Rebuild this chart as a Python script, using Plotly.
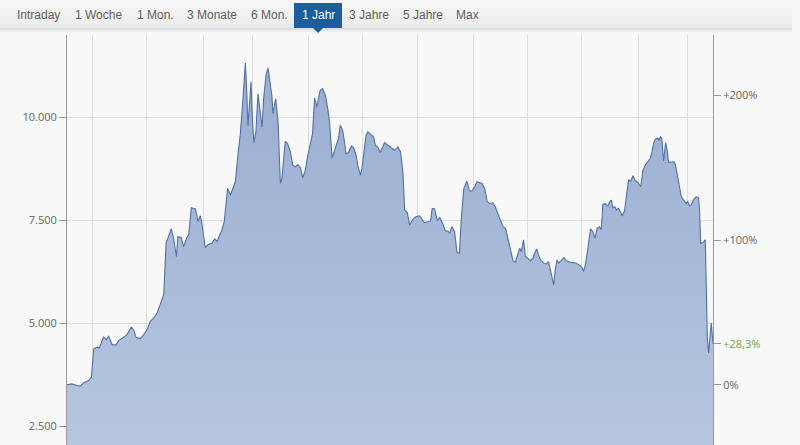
import plotly.graph_objects as go

# ---------------- data ----------------
days = [0, 1.9, 3.9, 5.2, 6.5, 8.4, 9.5, 10.4, 11.7, 12.6, 14.2, 15.2, 16.2, 17.5, 19.0, 20.1, 22.0, 23.3, 25.0, 25.9,
        26.8, 28.5, 29.8, 31.1, 32.4, 33.7, 35.0, 36.3, 37.6, 38.5, 39.5, 40.5, 41.4, 42.5, 43.1, 44.4, 45.3, 46.6, 47.3, 48.3,
        49.9, 50.9, 51.8, 52.4, 53.7, 55.0, 56.3, 57.4, 58.3, 59.2, 60.2, 61.1, 61.9, 62.4, 63.5, 64.4, 65.4, 66.4, 67.3, 68.2,
        69.3, 69.9, 70.3, 70.8, 71.5, 72.1, 72.6, 73.4, 74.2, 74.9, 75.8, 76.4, 77.3, 78.1, 79.0, 79.6, 80.0, 80.5, 81.1, 82.0,
        82.9, 83.5, 84.2, 84.8, 85.7, 86.8, 87.7, 88.7, 89.7, 90.7, 91.6, 92.6, 93.6, 94.5, 95.4, 96.2, 97.1, 97.8, 98.4, 99.3,
        100.4, 101.3, 102.0, 103.0, 104.0, 104.9, 105.5, 106.2, 107.1, 107.9, 108.4, 109.4, 110.5, 111.4, 112.3, 113.1, 114.0, 114.6, 115.3, 116.2,
        116.9, 118.2, 119.1, 119.8, 120.7, 121.7, 122.6, 123.4, 124.3, 125.2, 126.0, 127.3, 128.6, 129.6, 130.5, 131.2, 132.2, 133.1, 134.4, 135.7,
        137.0, 137.6, 138.9, 140.2, 141.3, 141.9, 142.8, 143.9, 144.8, 146.1, 147.0, 148.0, 148.7, 149.6, 150.6, 151.5, 152.5, 153.2, 154.2, 155.4,
        156.4, 157.3, 158.4, 159.3, 160.3, 161.3, 162.3, 163.3, 164.2, 165.5, 166.4, 167.4, 168.5, 169.4, 170.4, 171.3, 172.4, 173.3, 174.2, 175.2,
        175.9, 176.5, 177.4, 178.1, 178.8, 180.1, 181.0, 181.7, 182.5, 183.2, 184.0, 185.3, 186.2, 187.1, 188.2, 189.1, 189.8, 190.4, 191.0, 192.0,
        193.1, 194.0, 195.3, 196.6, 197.9, 199.2, 200.1, 200.7, 201.4, 202.4, 203.4, 204.3, 205.2, 206.0, 206.9, 207.6, 208.2, 209.1, 210.2, 210.8,
        211.5, 212.1, 212.8, 213.5, 214.3, 215.0, 215.7, 216.6, 217.3, 218.2, 219.0, 219.9, 220.8, 221.8, 222.9, 223.8, 224.7, 225.7, 226.6, 227.3,
        227.9, 228.6, 229.6, 230.0, 230.6, 231.1, 231.8, 232.6, 233.2, 233.7, 234.8, 235.8, 236.3, 237.1, 238.0, 238.7, 239.3, 240.0, 240.6, 241.2,
        241.9, 242.5, 243.5, 244.5, 245.4, 245.8, 246.2, 247.1, 248.0, 248.4, 248.8, 249.3, 250.0, 250.3, 251.0]

prices = [3510, 3530, 3490, 3475, 3555, 3610, 3695, 4385, 4420, 4400, 4670, 4605, 4685, 4485, 4470, 4580, 4660, 4725, 4905, 4845,
          4660, 4630, 4725, 4845, 5050, 5130, 5250, 5450, 5695, 6945, 7105, 7290, 7065, 6620, 7105, 7080, 6860, 7080, 7145, 7805,
          7775, 7470, 7610, 7425, 6840, 6920, 6945, 7050, 6985, 7105, 7265, 7465, 8030, 8275, 8115, 8275, 8435, 9080, 9565, 10290,
          11320, 10530, 9805, 10210, 10855, 9885, 9385, 9645, 10570, 10210, 9765, 10450, 11015, 11195, 10855, 10530, 10090, 10290, 10450, 9885,
          8395, 8515, 9000, 9420, 9365, 9160, 8840, 8800, 8855, 8775, 8530, 8720, 9080, 9365, 9605, 10470, 10250, 10490, 10655, 10695,
          10530, 10210, 9885, 9015, 9200, 9320, 9485, 9805, 9685, 9365, 9120, 9145, 9305, 9260, 9080, 8800, 8595, 8760, 9160, 9565,
          9645, 9580, 9525, 9320, 9280, 9145, 9260, 9385, 9340, 9305, 9260, 9200, 9280, 9160, 8680, 7750, 7695, 7385, 7530, 7590,
          7610, 7550, 7445, 7465, 7485, 7790, 7775, 7490, 7565, 7405, 7240, 7240, 7185, 7345, 7225, 6725, 6700, 7550, 8275, 8450,
          8210, 8210, 8315, 8435, 8420, 8395, 8260, 7950, 7910, 7925, 7830, 7670, 7510, 7345, 7305, 7065, 6740, 6515, 6485, 6660,
          6820, 6740, 7025, 6620, 6595, 6515, 6580, 6700, 6805, 6660, 6540, 6460, 6435, 6500, 6215, 5935, 6340, 6540, 6460, 6515,
          6595, 6515, 6485, 6475, 6460, 6405, 6355, 6260, 6420, 6820, 7290, 7225, 7065, 7305, 7345, 7265, 7885, 7905, 7845, 7950,
          7990, 7790, 7830, 7750, 7790, 7710, 7605, 7725, 8115, 8490, 8435, 8580, 8460, 8420, 8315, 8720, 8840, 8935, 9000, 9160,
          9365, 9470, 9500, 9445, 9525, 9485, 8935, 9385, 9200, 8905, 8920, 8920, 8880, 8635, 8275, 8070, 8015, 7950, 7910, 7950,
          7855, 7870, 8010, 8070, 8050, 7710, 6945, 6960, 7025, 5855, 4645, 4280, 4885, 5010, 4503]

month_starts = [10, 31, 53, 72, 94, 115, 136, 158, 179, 200, 222, 241]
price_ticks = [2500, 5000, 7500, 10000]
pct_ticks = [0, 100, 200]
tab_labels = ["Intraday", "1 Woche", "1 Mon.", "3 Monate", "6 Mon.", "1 Jahr", "3 Jahre", "5 Jahre", "Max"]
active_tab = "1 Jahr"

# ---------------- styling / layout ----------------
W, H = 800, 445
L, R, T, B = 67, 713, 35, 445          # plot area in pixels
y_range = [2046, 11998]
x_range = [0, 251]
base = prices[0]
pct = [(p / base - 1) * 100 for p in prices]
last_pct = pct[-1]
pct_range = [(v / base - 1) * 100 for v in y_range]

def fmt_pct(v):
    s = f"{v:+.1f}".replace(".", ",")
    return s + "%"

def px_x(px):
    return (px - L) / (R - L)

def px_y(py):
    return (B - py) / (B - T)

LINE = "#536fa6"
TOP_FILL = "#97acd0"
BOT_FILL = "#b6c6df"
GRID = "#dedede"
AXIS = "#9a9a9a"
FONT = "Open Sans"

fig = go.Figure()
fig.add_trace(go.Scatter(
    x=days, y=prices, mode="lines", fill="tozeroy",
    line=dict(color=LINE, width=1.1),
    fillgradient=dict(type="vertical", start=y_range[0], stop=y_range[1],
                      colorscale=[[0, BOT_FILL], [1, TOP_FILL]]),
    hoverinfo="skip", showlegend=False))
fig.add_trace(go.Scatter(
    x=days, y=pct, yaxis="y2", mode="lines",
    line=dict(color="rgba(0,0,0,0)", width=0),
    hoverinfo="skip", showlegend=False))

green_tick = f'<span style="color:#6aa343">{fmt_pct(last_pct)}</span>'
pct_vals = pct_ticks + [last_pct]
pct_text = [("0%" if v == 0 else fmt_pct(v).replace(",0%", "%")) for v in pct_ticks] + [green_tick]

fig.update_layout(
    width=W, height=H,
    margin=dict(l=L, r=W - R, t=T, b=H - B, pad=0),
    paper_bgcolor="#f8f8f8", plot_bgcolor="#f8f8f8",
    separators=",.",
    font=dict(family=FONT, size=11, color="#666666"),
    xaxis=dict(range=x_range, showticklabels=False, tickvals=month_starts,
               showgrid=True, gridcolor=GRID, gridwidth=1, zeroline=False,
               showline=False, ticks=""),
    yaxis=dict(range=y_range, tickvals=price_ticks, tickformat=",d",
               showgrid=True, gridcolor=GRID, gridwidth=1, zeroline=False,
               showline=True, linecolor=AXIS, linewidth=1,
               ticks="outside", ticklen=7, tickcolor=AXIS, tickwidth=1,
               tickfont=dict(size=11, color="#666666")),
    yaxis2=dict(range=pct_range, overlaying="y", side="right",
                tickvals=pct_vals, ticktext=pct_text,
                showgrid=False, zeroline=False,
                showline=True, linecolor=AXIS, linewidth=1,
                ticks="outside", ticklen=7, tickcolor=AXIS, tickwidth=1,
                tickfont=dict(size=11, color="#666666")),
)

# ---------------- tab bar ----------------
shapes = []
bands = [(0, 8, "#f6f6f6"), (8, 16, "#f2f2f2"), (16, 24, "#eeeeee"), (24, 28, "#e8e8e8"),
         (28, 30, "#dfdfdf"), (30, 32, "#eeeeee")]
for y0, y1, c in bands:
    shapes.append(dict(type="rect", xref="paper", yref="paper",
                       x0=px_x(0), x1=px_x(792), y0=px_y(y1), y1=px_y(y0),
                       fillcolor=c, line=dict(width=0), layer="above"))
tab_centers = [38, 98, 155, 212, 269, 318, 369, 423, 468]
for lab, cx in zip(tab_labels, tab_centers):
    if lab == active_tab:
        shapes.append(dict(type="rect", xref="paper", yref="paper",
                           x0=px_x(294), x1=px_x(342), y0=px_y(28), y1=px_y(3),
                           fillcolor="#1c5d9e", line=dict(width=0), layer="above"))
        shapes.append(dict(type="path", xref="paper", yref="paper",
                           path=f"M {px_x(cx-5)} {px_y(28)} L {px_x(cx+5)} {px_y(28)} L {px_x(cx)} {px_y(33)} Z",
                           fillcolor="#1c5d9e", line=dict(width=0), layer="above"))
fig.update_layout(shapes=shapes)

for lab, cx in zip(tab_labels, tab_centers):
    fig.add_annotation(x=px_x(cx), y=px_y(15.5), xref="paper", yref="paper",
                       text=lab, showarrow=False, xanchor="center", yanchor="middle",
                       font=dict(family="Liberation Sans", size=12,
                                 color="#ffffff" if lab == active_tab else "#606060"))

fig.write_html("out.html",
               config={"displayModeBar": False},
               post_script="document.body.style.margin='0';document.body.style.padding='0';"
                           "document.body.style.background='#f8f8f8';")
